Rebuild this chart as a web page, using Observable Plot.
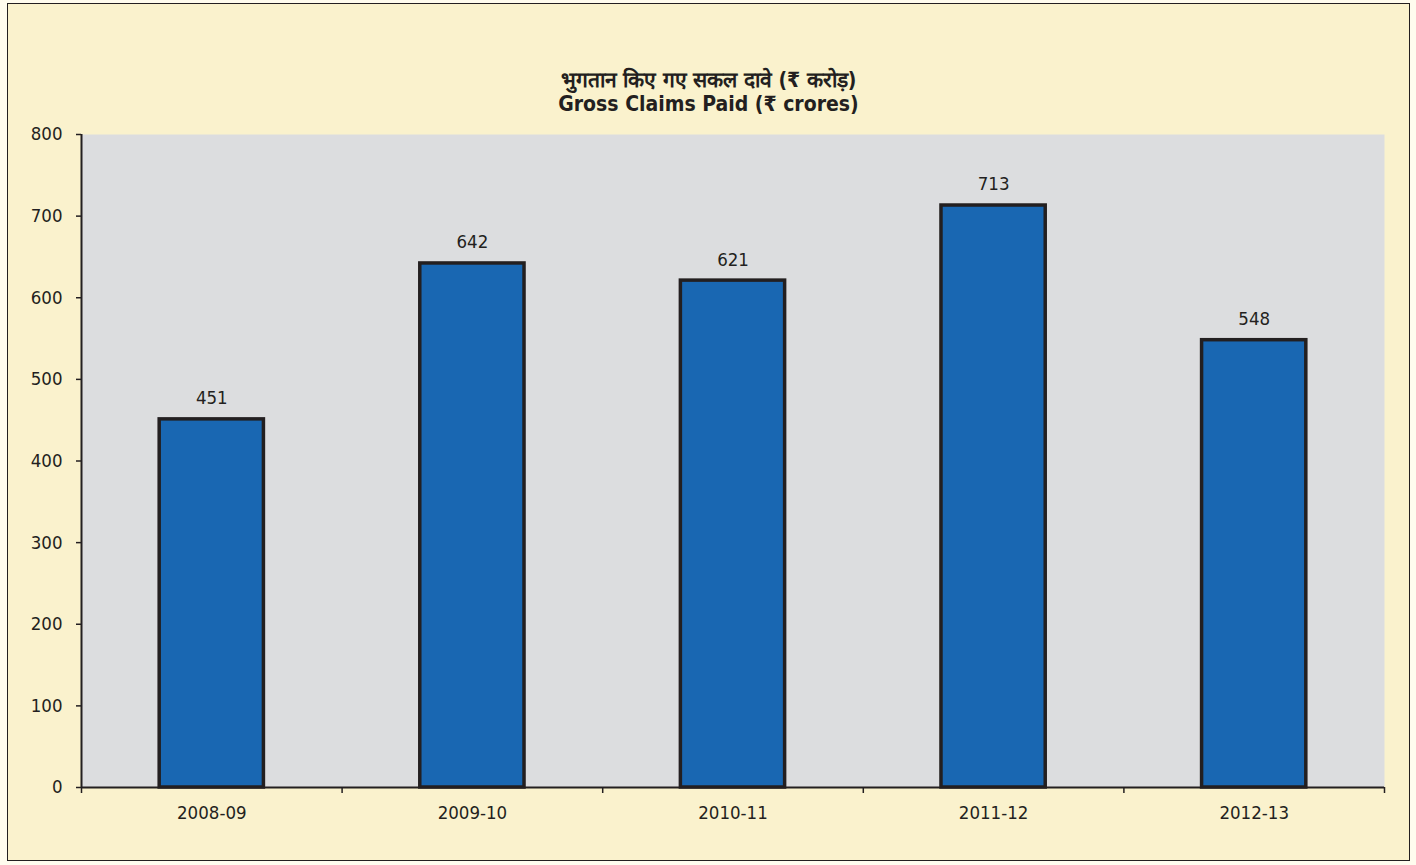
<!DOCTYPE html>
<html>
<head>
<meta charset="utf-8">
<script src="https://cdn.jsdelivr.net/npm/d3@7"></script>
<script src="https://cdn.jsdelivr.net/npm/@observablehq/plot@0.6"></script>
<style>
  body { margin: 0; background: #FFFCEE; width: 1416px; height: 865px; position: relative; overflow: hidden; }
  #box { position: absolute; left: 7px; top: 3px; width: 1403px; height: 858px; box-sizing: border-box; border: 1.5px solid #231F20; background: #FAF2CD; }
  #title { position: absolute; left: 7px; width: 1403px; top: 68px; text-align: center;
    font-family: "Liberation Sans Narrow", "DejaVu Sans Condensed", "Liberation Sans", sans-serif;
    font-weight: bold; color: #231F20; font-size: 21px; line-height: 24px; }
  #chart { position: absolute; left: 0; top: 115px; }
</style>
</head>
<body>
<div id="box"></div>
<div id="title">
  <div>भुगतान किए गए सकल दावे (₹ करोड़)</div>
  <div>Gross Claims Paid (₹ crores)</div>
</div>
<div id="chart"></div>
<script>
const years = ["2008-09", "2009-10", "2010-11", "2011-12", "2012-13"];
const claims = [451, 642, 621, 713, 548];
const yTicks = [0, 100, 200, 300, 400, 500, 600, 700, 800];

const rows = years.map((year, i) => ({year, i, value: claims[i]}));
const barHalf = 0.2; // bar width as a fraction of the category slot

const chart = Plot.plot({
  width: 1416,
  height: 750,
  marginLeft: 81,
  marginRight: 32,
  marginTop: 19,
  marginBottom: 78,
  style: {
    fontFamily: '"Liberation Sans Narrow", "DejaVu Sans Condensed", "Liberation Sans", sans-serif',
    fontSize: "18.5px",
    color: "#231F20",
    background: "transparent"
  },
  x: {domain: [0, years.length], axis: null},
  y: {domain: [0, 800], axis: null},
  marks: [
    Plot.frame({fill: "#DCDDDF", stroke: null}),
    Plot.rectY(rows, {
      x1: d => d.i + 0.5 - barHalf,
      x2: d => d.i + 0.5 + barHalf,
      y: "value",
      fill: "#1967B2",
      stroke: "#231F20",
      strokeWidth: 3.5
    }),
    Plot.text(rows, {x: d => d.i + 0.5, y: "value", text: d => String(d.value), dy: -21, fill: "#231F20"}),
    Plot.ruleY([0], {stroke: "#231F20", strokeWidth: 2}),
    Plot.ruleX([0], {stroke: "#231F20", strokeWidth: 2}),
    Plot.axisY({ticks: yTicks, tickSize: 5, tickPadding: 14, stroke: "#231F20", strokeWidth: 1.5, anchor: "left", label: null}),
    Plot.axisX({ticks: d3.range(years.length + 1), tickFormat: () => "", tickSize: 6, stroke: "#231F20", strokeWidth: 1.5, anchor: "bottom", label: null}),
    Plot.axisX({ticks: years.map((_, i) => i + 0.5), tickFormat: v => years[Math.floor(v)], tickSize: 0, tickPadding: 18, anchor: "bottom", label: null})
  ]
});
document.getElementById("chart").appendChild(chart);
</script>
</body>
</html>
